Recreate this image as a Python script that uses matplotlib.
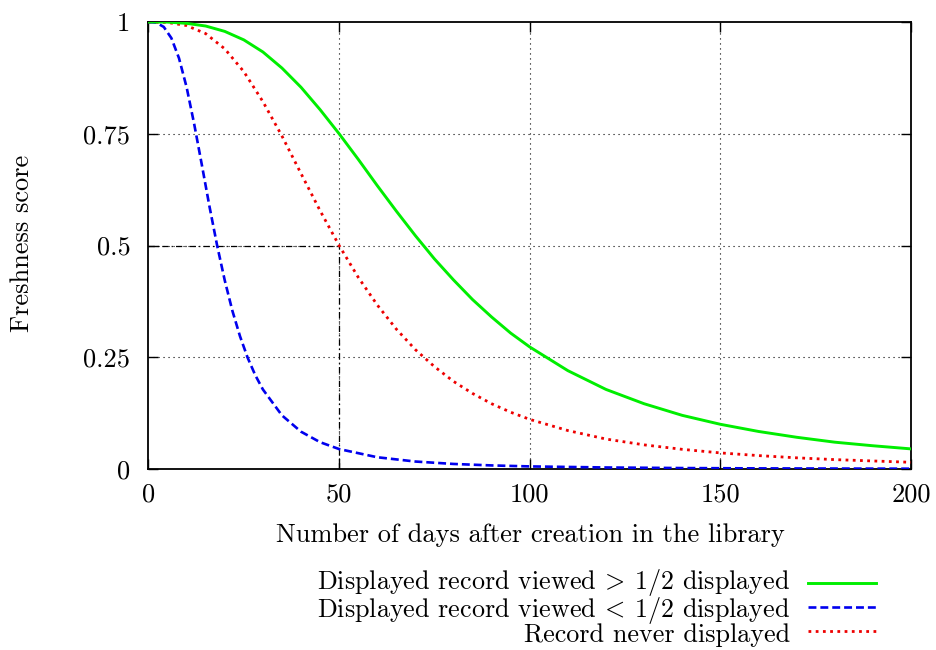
import matplotlib
matplotlib.use("Agg")
import matplotlib.pyplot as plt
from matplotlib.lines import Line2D

plt.rcParams['font.family'] = 'cmr10'
plt.rcParams['mathtext.fontset'] = 'cm'
plt.rcParams['axes.unicode_minus'] = False

# ---- data ----
days_green = [0, 5, 10, 15, 20, 25, 30, 35, 40, 45, 50, 55, 60, 65, 70, 75, 80, 85, 90, 95,
              100, 110, 120, 130, 140, 150, 160, 170, 180, 190, 200]
score_green = [1.0, 0.9997, 0.997, 0.991, 0.979, 0.960, 0.933, 0.897, 0.854, 0.804, 0.75,
               0.693, 0.634, 0.577, 0.522, 0.470, 0.423, 0.379, 0.340, 0.304,
               0.273, 0.220, 0.178, 0.146, 0.120, 0.100, 0.084, 0.071, 0.060, 0.052, 0.045]

days_blue = [0, 2, 4, 6, 8, 10, 12, 14, 16, 18, 20, 22, 24, 26, 28, 30, 35, 40, 45, 50,
             60, 70, 80, 90, 100, 120, 140, 160, 180, 200]
score_blue = [1.0, 0.9986, 0.989, 0.964, 0.919, 0.854, 0.771, 0.680, 0.587, 0.5, 0.422,
              0.354, 0.297, 0.249, 0.210, 0.178, 0.120, 0.0835, 0.060, 0.0446,
              0.0263, 0.0167, 0.0113, 0.008, 0.0058, 0.0034, 0.0021, 0.0014, 0.001, 0.0007]

days_red = [0, 5, 10, 15, 20, 25, 30, 35, 40, 45, 50, 55, 60, 65, 70, 75, 80, 85, 90, 95,
            100, 110, 120, 130, 140, 150, 160, 170, 180, 190, 200]
score_red = [1.0, 0.999, 0.992, 0.974, 0.940, 0.889, 0.822, 0.745, 0.661, 0.578, 0.5,
             0.429, 0.367, 0.313, 0.267, 0.229, 0.196, 0.169, 0.146, 0.127,
             0.111, 0.086, 0.067, 0.054, 0.044, 0.036, 0.030, 0.025, 0.021, 0.018, 0.015]

half_life_day = 50
half_score = 0.5

x_ticks = [0, 50, 100, 150, 200]
y_ticks = [0, 0.25, 0.5, 0.75, 1]
y_tick_labels = ['0', '0.25', '0.5', '0.75', '1']

labels = [r'Displayed record viewed $\!>\!$ 1/2 displayed',
          r'Displayed record viewed $\!<\!$ 1/2 displayed',
          'Record never displayed']

# ---- figure ----
W, H = 937, 650
fig = plt.figure(figsize=(W / 100, H / 100), dpi=100)
ax = fig.add_axes([148.5 / W, 1 - 469 / H, (911 - 148.5) / W, (469 - 22) / H])

FS = 19
FS_LEG = 18.8

grid_style = dict(color='black', linewidth=0.8, linestyle=(0, (1, 3.5)))
for xv in x_ticks[1:-1]:
    ax.axvline(xv, **grid_style, zorder=1)
for yv in y_ticks[1:-1]:
    ax.axhline(yv, **grid_style, zorder=1)

# reference dash-dot lines to the half-life point
dd = dict(color='black', linewidth=0.9, linestyle=(0, (5, 2.5, 1, 2.5)), zorder=1.5)
ax.plot([0, half_life_day], [half_score, half_score], **dd)
ax.plot([half_life_day, half_life_day], [0, half_score], **dd)

styles = [
    dict(color='#00ee00', linewidth=2.1, linestyle='-'),
    dict(color='#0000ee', linewidth=1.9, linestyle=(0, (3.0, 1.5))),
    dict(color='#ee0000', linewidth=2.0, linestyle=(0, (1, 1.6))),
]
ax.plot(days_red, score_red, **styles[2], zorder=3, dash_capstyle='butt')
ax.plot(days_blue, score_blue, **styles[1], zorder=3, dash_capstyle='butt')
ax.plot(days_green, score_green, **styles[0], zorder=3)

ax.set_xlim(0, 200)
ax.set_ylim(0, 1)
ax.set_xticks(x_ticks)
ax.set_xticklabels([str(v) for v in x_ticks])
ax.set_yticks(y_ticks)
ax.set_yticklabels(y_tick_labels)
ax.tick_params(direction='in', length=7, width=1, labelsize=FS,
               top=True, right=True)
ax.tick_params(axis='x', pad=10)
ax.tick_params(axis='y', pad=13)
for s in ax.spines.values():
    s.set_linewidth(1.3)

fig.text(22 / W, 1 - 243 / H, 'Freshness score', rotation=90,
         ha='center', va='center', fontsize=FS)
fig.text(530 / W, 1 - 535 / H, 'Number of days after creation in the library',
         ha='center', va='center', fontsize=FS)

# legend below the plot (text right-aligned, samples on the right)
rows_y = [583, 607, 631]
fig.text(790 / W, 1 - rows_y[1] / H, '\n'.join(labels), ha='right', va='center',
         multialignment='right', fontsize=FS_LEG, linespacing=0.88)
for st, yy in zip(styles, rows_y):
    ln = Line2D([808 / W, 876 / W], [1 - yy / H, 1 - yy / H], transform=fig.transFigure,
                **st, dash_capstyle='butt')
    fig.add_artist(ln)

fig.savefig('out.png', dpi=100)
